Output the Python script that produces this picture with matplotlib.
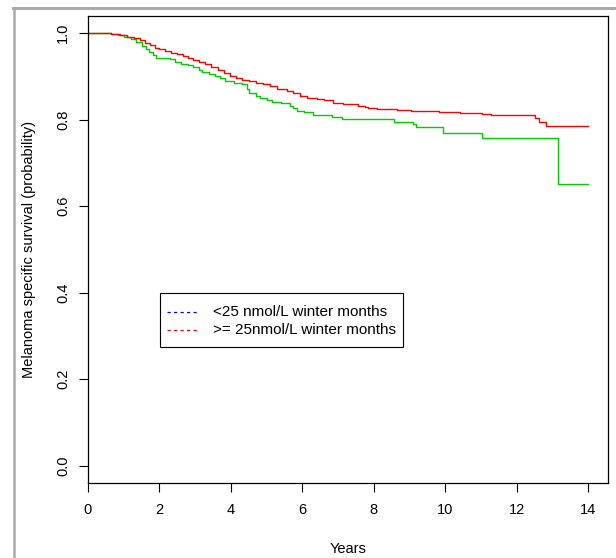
import matplotlib
matplotlib.use("Agg")
import matplotlib.pyplot as plt
from matplotlib.lines import Line2D
from matplotlib.patches import Rectangle

plt.rcParams["font.family"] = ["Liberation Sans", "DejaVu Sans"]
plt.rcParams["font.size"] = 10.5

# ----------------------------
# Kaplan-Meier curves
# ----------------------------
green_t = [0, 0.65, 0.85, 1.0, 1.2, 1.35, 1.5, 1.62, 1.72, 1.82, 1.91, 2.3, 2.43,
           2.6, 2.8, 2.95, 3.1, 3.2, 3.4, 3.56, 3.7, 3.84, 4.1, 4.3, 4.44, 4.5,
           4.7, 4.82, 5.0, 5.14, 5.4, 5.66, 5.75, 5.84, 6.05, 6.31, 6.84, 7.12,
           8.57, 9.11, 9.18, 9.95, 11.04, 13.17, 14.0]
green_s = [1.0, 0.998, 0.995, 0.991, 0.986, 0.979, 0.970, 0.964, 0.957, 0.950,
           0.943, 0.940, 0.933, 0.930, 0.926, 0.921, 0.915, 0.911, 0.907, 0.901,
           0.897, 0.890, 0.886, 0.882, 0.872, 0.862, 0.856, 0.850, 0.846, 0.842,
           0.838, 0.832, 0.827, 0.821, 0.817, 0.811, 0.806, 0.801, 0.795, 0.791,
           0.783, 0.769, 0.759, 0.652, 0.652]

red_t = [0, 0.65, 0.9, 1.1, 1.3, 1.45, 1.6, 1.75, 1.87, 2.0, 2.15, 2.33, 2.5,
         2.65, 2.8, 2.95, 3.1, 3.27, 3.45, 3.64, 3.8, 3.98, 4.15, 4.3, 4.5, 4.7,
         4.9, 5.1, 5.3, 5.56, 5.75, 5.95, 6.12, 6.4, 6.6, 6.87, 7.15, 7.57, 7.76,
         7.85, 8.08, 8.65, 9.04, 9.83, 10.42, 11.04, 11.28, 12.52, 12.64, 12.83,
         14.0]
red_s = [1.0, 0.999, 0.995, 0.992, 0.988, 0.984, 0.978, 0.972, 0.967, 0.963,
         0.959, 0.955, 0.951, 0.947, 0.943, 0.938, 0.934, 0.928, 0.921, 0.915,
         0.908, 0.902, 0.897, 0.893, 0.889, 0.885, 0.882, 0.877, 0.872, 0.866,
         0.861, 0.855, 0.851, 0.848, 0.845, 0.838, 0.836, 0.833, 0.830, 0.827,
         0.825, 0.823, 0.820, 0.818, 0.816, 0.813, 0.810, 0.804, 0.795, 0.785,
         0.785]

legend_labels = ["<25 nmol/L winter months", ">= 25nmol/L winter months"]
legend_colors = ["blue", "red"]

x_ticks = [0, 2, 4, 6, 8, 10, 12, 14]
y_ticks = [0.0, 0.2, 0.4, 0.6, 0.8, 1.0]

W, H = 616, 558


def fx(px):
    return px / W


def fy(py):
    return 1 - py / H


# ----------------------------
# Plot
# ----------------------------
fig = plt.figure(figsize=(W / 100, H / 100), dpi=100)
ax = fig.add_axes([fx(88), fy(483), 520 / W, 467 / H])

ax.step(green_t, green_s, where="post", color="#00cc00", lw=1.0)
ax.step(red_t, red_s, where="post", color="#ff0000", lw=1.0)

ax.set_xlim(0, 14.56)
ax.set_ylim(-0.04, 1.04)
ax.set_xticks(x_ticks)
ax.set_xticklabels([str(v) for v in x_ticks])
ax.set_yticks(y_ticks)
ax.set_yticklabels([f"{v:.1f}" for v in y_ticks], rotation=90, va="center")
ax.tick_params(direction="out", length=6.5, width=0.8)
ax.tick_params(axis="x", pad=8)
ax.tick_params(axis="y", pad=6.5)
for sp in ax.spines.values():
    sp.set_linewidth(0.9)

ax.set_xlabel("Years", labelpad=18)
ax.set_ylabel("Melanoma specific survival (probability)", labelpad=14)

# legend box drawn the way R lays it out
fig.add_artist(Rectangle((fx(159.5), fy(347)), (402.5 - 159.5) / W, (347 - 293) / H,
                         transform=fig.transFigure, facecolor="white",
                         edgecolor="black", lw=0.8))
row_y = [311.5, 329.5]
for lab, col, yy in zip(legend_labels, legend_colors, row_y):
    fig.add_artist(Line2D([fx(167), fx(199)], [fy(yy)] * 2, color=col, lw=0.9,
                          dashes=(2.6, 2.6), transform=fig.transFigure))
    fig.text(fx(213), fy(yy), lab, fontsize=11, va="center", ha="left")

# grey frame around the picture
fig.add_artist(Line2D([fx(13), 1], [fy(7.5)] * 2, color="#aaaaaa", lw=2.2,
                      transform=fig.transFigure))
fig.add_artist(Line2D([fx(14)] * 2, [0, fy(7.5)], color="#aaaaaa", lw=1.8,
                      transform=fig.transFigure))

fig.savefig("out.png", dpi=100)
